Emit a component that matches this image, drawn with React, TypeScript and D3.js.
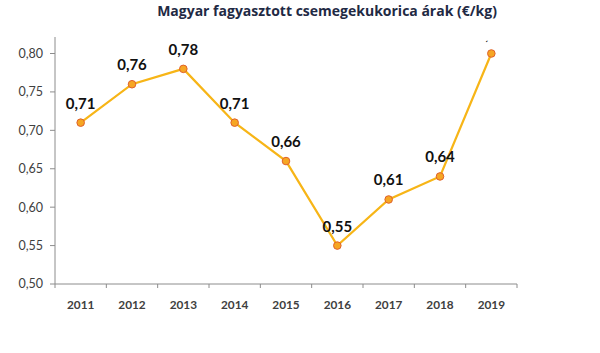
import * as d3 from 'd3';
import React from 'react';

const TITLE = "Magyar fagyasztott csemegekukorica árak (€/kg)";
const years = ["2011", "2012", "2013", "2014", "2015", "2016", "2017", "2018", "2019"];
const prices = [0.71, 0.76, 0.78, 0.71, 0.66, 0.55, 0.61, 0.64, 0.80];
const yTicks = [0.5, 0.55, 0.6, 0.65, 0.7, 0.75, 0.8];

const fmt = (v: number) => v.toFixed(2).replace(".", ",");

const App: React.FC = () => {
  const width = 600;
  const height = 353;
  const left = 55, right = 517, top = 37, bottom = 284;

  const x = d3.scaleBand().domain(years).range([left, right]);
  const y = d3.scaleLinear().domain([0.5, 0.8]).range([bottom, 53.5]);

  const pts = years.map((yr, i) => ({ yr, v: prices[i], cx: x(yr)! + x.bandwidth() / 2, cy: y(prices[i]) }));
  const line = d3.line<typeof pts[number]>().x(d => d.cx).y(d => d.cy);

  const font = "Lato, 'Open Sans', sans-serif";
  const clipTop = 40.8;

  return (
    <svg width={width} height={height} style={{ position: "absolute", left: 0, top: 0, background: "#fff" }}>
      <defs>
        <clipPath id="plot">
          {/* labels that run above the plot area get cut, like the 2019 one */}
          <rect x={left} y={clipTop} width={width - left} height={height - clipTop} />
        </clipPath>
      </defs>
      <text x={327} y={16} textAnchor="middle" fontFamily="'Open Sans', sans-serif" fontWeight="bold" fontSize={14} fill="#1f2a44">
        {TITLE}
      </text>

      {/* axes */}
      <line x1={left} x2={left} y1={top} y2={bottom} stroke="#8c8c8c" />
      <line x1={left} x2={right} y1={bottom} y2={bottom} stroke="#8c8c8c" />
      {yTicks.map(t => (
        <g key={t}>
          <line x1={left - 5} x2={left} y1={y(t)} y2={y(t)} stroke="#8c8c8c" />
          <text x={43} y={y(t)} dy="0.35em" textAnchor="end" fontFamily={font} fontSize={12.5} fill="#404040">
            {fmt(t)}
          </text>
        </g>
      ))}
      {[...years.map(yr => x(yr)!), right].map((px, i) => (
        <line key={i} x1={px} x2={px} y1={bottom} y2={bottom + 4} stroke="#8c8c8c" />
      ))}
      {pts.map(p => (
        <text key={p.yr} x={p.cx} y={305} dy="0.35em" textAnchor="middle" fontFamily={font} fontWeight="bold" fontSize={11.8} fill="#404040">
          {p.yr}
        </text>
      ))}

      {/* series */}
      <path d={line(pts)!} fill="none" stroke="#f7b517" strokeWidth={2.2} />
      {pts.map(p => (
        <circle key={p.yr} cx={p.cx} cy={p.cy} r={3.8} fill="#f6a623" stroke="#e0612c" strokeWidth={1} />
      ))}
      <g clipPath="url(#plot)">
        {pts.map(p => (
          <text key={p.yr} x={p.cx} y={p.cy - 14} textAnchor="middle" fontFamily={font} fontWeight="bold" fontSize={15} fill="#111">
            {fmt(p.v)}
          </text>
        ))}
      </g>
    </svg>
  );
};

export default App;
